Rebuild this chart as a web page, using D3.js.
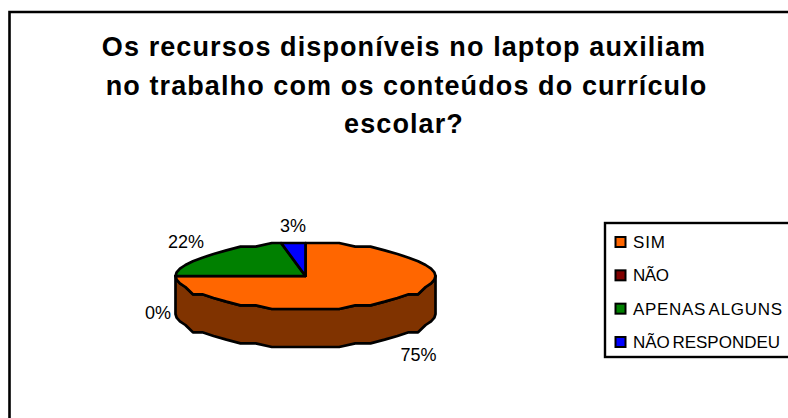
<!DOCTYPE html>
<html lang="pt">
<head>
<meta charset="utf-8">
<script src="https://cdn.jsdelivr.net/npm/d3@7"></script>
<style>
html,body{margin:0;padding:0;background:#fff;}
svg{display:block;}
text{font-family:"Liberation Sans",Arial,sans-serif;fill:#000;}
</style>
</head>
<body>
<script>
// Chart content
const categories = ["SIM", "NÃO", "APENAS ALGUNS", "NÃO RESPONDEU"];
const values = [75, 0, 22, 3];
const colors = ["#ff6600", "#800000", "#008000", "#0000ff"];
const titleLines = [
  "Os recursos disponíveis no laptop auxiliam",
  "no trabalho com os conteúdos do currículo",
  "escolar?"
];
const legendTextWidths = [32, 36, 149, 147];

// Layout
const W = 788, H = 418;
const cx = 305.5, cy = 276, rx = 130, ry = 33, depth = 38;
const facetStep = Math.PI / 24;          // the disc is drawn as a faceted outline
const yStep = 33 / 9;                    // coarse vertical grid of the outline

const svg = d3.select("body").append("svg").attr("width", W).attr("height", H);

// Outer chart frame, cut by the page edge on the right and bottom
svg.append("path")
  .attr("d", `M9.5,${H + 4}V12H${W + 4}`)
  .attr("fill", "none").attr("stroke", "#000").attr("stroke-width", 2.6);

// Title
svg.append("g").selectAll("text").data(titleLines).join("text")
  .attr("x", (d, i) => i === 1 ? 406.5 : 404)
  .attr("y", (d, i) => 56 + i * 38.5)
  .attr("text-anchor", "middle")
  .attr("font-size", 27)
  .attr("font-weight", 700)
  .attr("letter-spacing", 1.1)
  .text(d => d);

// Pie angles, clockwise from twelve o'clock
const arcs = d3.pie().sort(null).value(d => d)(values);

// Horizontal and vertical projection of the tilted disc
const px = d3.scaleLinear().domain([-1, 1]).range([cx - rx, cx + rx]);
const py = d3.scaleLinear().domain([-1, 1]).range([cy - ry, cy + ry]);
const snap = y => cy + Math.round((y - cy) / yStep) * yStep;
const rim = (a, dz = 0) => [px(Math.sin(a)), snap(py(-Math.cos(a))) + dz];

// Angles along an arc: whole facets plus both exact ends
function arcAngles(a0, a1) {
  const inner = d3.range(Math.ceil(a0 / facetStep), Math.floor(a1 / facetStep) + 1).map(k => k * facetStep);
  return [a0, ...inner.filter(a => a > a0 && a < a1), a1];
}

const line = d3.line();
const outlined = sel => sel.attr("stroke", "#000").attr("stroke-width", 2.7).attr("stroke-linejoin", "round");

// Side wall: only the part of each slice facing the viewer
const wall = svg.append("g");
arcs.forEach((d, i) => {
  const a0 = Math.max(d.startAngle, Math.PI / 2);
  const a1 = Math.min(d.endAngle, 3 * Math.PI / 2);
  if (a1 <= a0) return;
  const angles = arcAngles(a0, a1);
  const pts = [...angles.map(a => rim(a)), ...angles.slice().reverse().map(a => rim(a, depth))];
  const c = d3.rgb(colors[i]);
  wall.append("path")
    .attr("d", line(pts) + "Z")
    .attr("fill", d3.rgb(c.r * 0.5, c.g * 0.5, c.b * 0.5).formatHex())
    .call(outlined);
});

// Top face
const face = svg.append("g");
arcs.forEach((d, i) => {
  const pts = [[cx, cy], ...arcAngles(d.startAngle, d.endAngle).map(a => rim(a))];
  face.append("path")
    .attr("d", line(pts) + "Z")
    .attr("fill", colors[i])
    .call(outlined);
});

// Percentage labels, placed beside their slices
const labelAnchors = [[418.5, 361], [158, 319], [186, 248], [293, 232]];
svg.append("g").selectAll("text").data(values).join("text")
  .attr("x", (d, i) => labelAnchors[i][0])
  .attr("y", (d, i) => labelAnchors[i][1])
  .attr("text-anchor", "middle")
  .attr("font-size", 18)
  .text(d => d + "%");

// Legend
const legendRows = d3.scalePoint().domain(categories).range([242, 342]);
svg.append("rect")
  .attr("x", 605).attr("y", 223).attr("width", W).attr("height", 134)
  .attr("fill", "#fff").attr("stroke", "#000").attr("stroke-width", 2.4);
const rows = svg.append("g").selectAll("g").data(categories).join("g")
  .attr("transform", d => `translate(0,${legendRows(d)})`);
rows.append("rect")
  .attr("x", 615.5).attr("y", -5).attr("width", 10).attr("height", 10)
  .attr("fill", (d, i) => colors[i])
  .attr("stroke", "#000").attr("stroke-width", 2);
rows.append("text")
  .attr("x", 633).attr("y", 6)
  .attr("font-size", 17)
  .attr("word-spacing", -2)
  .attr("textLength", (d, i) => legendTextWidths[i])
  .attr("lengthAdjust", "spacing")
  .text(d => d);
</script>
</body>
</html>
